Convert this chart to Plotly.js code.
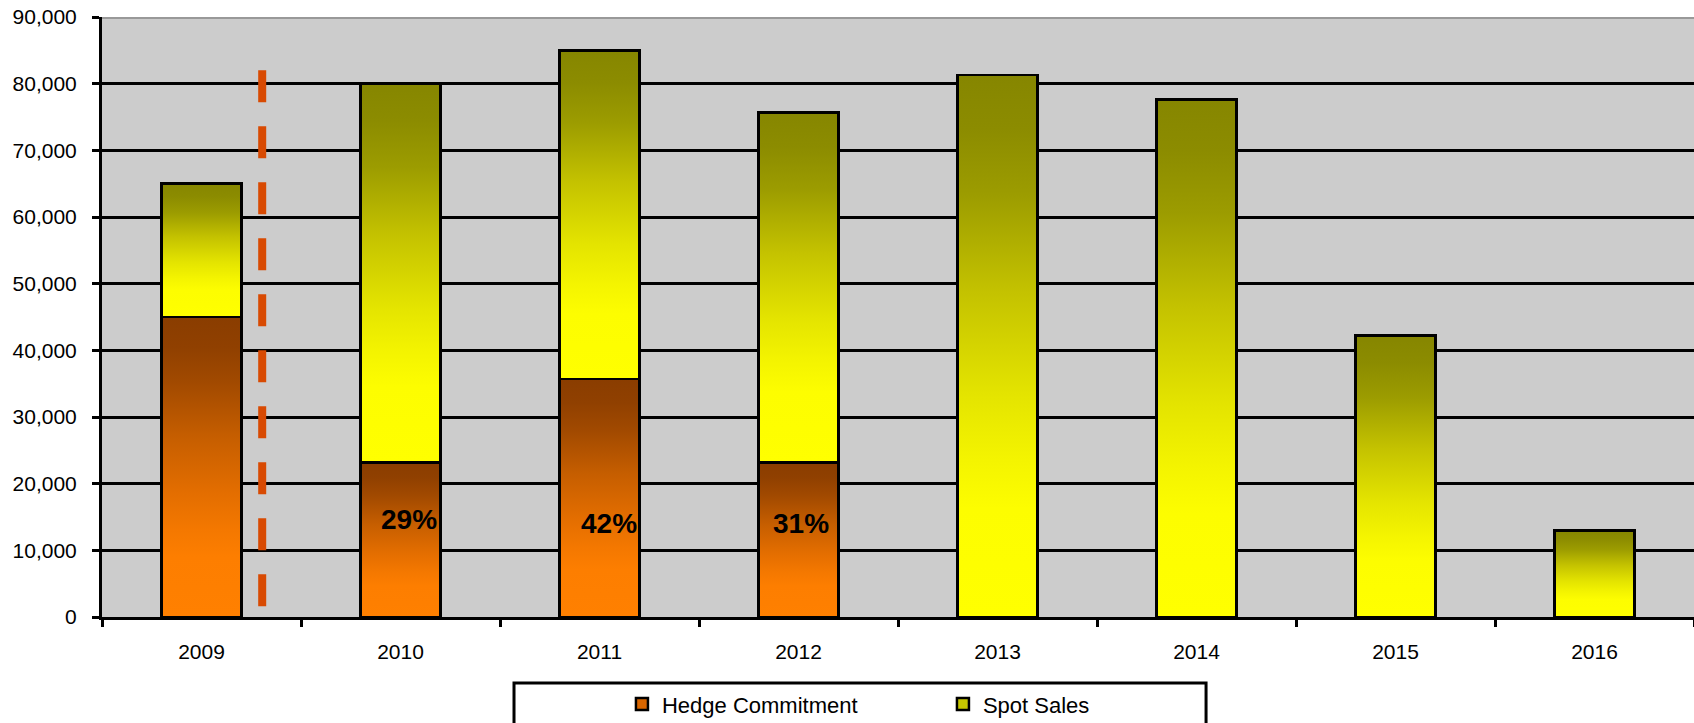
<!DOCTYPE html>
<html>
<head>
<meta charset="utf-8">
<script src="https://cdn.plot.ly/plotly-3.0.1.min.js"></script>
<style>
  html, body { margin: 0; padding: 0; background: #ffffff; }
  #chart { width: 1694px; height: 723px; }
</style>
</head>
<body>
<div id="chart"></div>
<script>
// ---- data ----
var years = ['2009', '2010', '2011', '2012', '2013', '2014', '2015', '2016'];
var hedgeCommitment = [45000, 23200, 35700, 23200, null, null, null, null];
var spotSales = [20000, 56800, 49300, 52500, 81300, 77600, 42200, 13000];
var pctYears = ['2010', '2011', '2012'];
var pctLabels = ['29%', '42%', '31%'];
var pctY = [14700, 14000, 14000];
var seriesNames = ['Hedge Commitment', 'Spot Sales'];
var dividerX = 0.305;          // position between 2009 and 2010 (category units)
var dividerY = [82000, 1200];  // dashed divider extent

// ---- styles ----
var FONT = 'Liberation Sans, Arial, sans-serif';
var hedgeStops = [[0, '#8A3D00'], [0.1, '#904000'], [0.22, '#A24A00'], [0.4, '#C65E00'],
                  [0.59, '#E46E00'], [0.71, '#F47800'], [0.8, '#FD7E00'], [1, '#FF8000']];
var spotStops = [[0, '#868600'], [0.1, '#8C8C00'], [0.22, '#9C9C00'], [0.4, '#C4C200'],
                 [0.59, '#E4E400'], [0.71, '#F4F400'], [0.8, '#FDFD00'], [1, '#FFFF00']];

var data = [
  {
    type: 'bar', name: seriesNames[0], x: years, y: hedgeCommitment,
    marker: { color: '#D96600', line: { color: '#000000', width: 2.5 } }
  },
  {
    type: 'bar', name: seriesNames[1], x: years, y: spotSales,
    marker: { color: '#C8C800', line: { color: '#000000', width: 2.5 } }
  }
];

var annotations = pctYears.map(function (yr, i) {
  return {
    x: years.indexOf(yr), y: pctY[i], xref: 'x', yref: 'y', text: '<b>' + pctLabels[i] + '</b>',
    showarrow: false, xshift: [8, 9, 2][i],
    font: { family: FONT, size: 28, color: '#000000' }
  };
});

var layout = {
  width: 1694, height: 723,
  margin: { l: 102, r: 0, t: 17, b: 106 },
  paper_bgcolor: '#ffffff',
  plot_bgcolor: '#CCCCCC',
  barmode: 'stack',
  bargap: 0.6,
  showlegend: true,
  hovermode: false,
  font: { family: FONT, size: 21, color: '#000000' },
  xaxis: {
    type: 'category',
    range: [-0.5, years.length - 0.5],
    showline: true, linecolor: '#000000', linewidth: 3,
    ticks: 'outside', tickson: 'boundaries', ticklen: 7, tickwidth: 3, tickcolor: '#000000',
    ticklabelstandoff: 14,
    showgrid: false, zeroline: false,
    tickfont: { family: FONT, size: 21, color: '#000000' },
    fixedrange: true
  },
  yaxis: {
    range: [0, 90000], dtick: 10000, tickformat: ',d',
    showline: true, linecolor: '#000000', linewidth: 3,
    ticks: 'outside', ticklen: 7, tickwidth: 3, tickcolor: '#000000',
    ticklabelstandoff: 11,
    showgrid: true, gridcolor: '#000000', gridwidth: 3,
    zeroline: false,
    tickfont: { family: FONT, size: 21, color: '#000000' },
    fixedrange: true
  },
  legend: {
    orientation: 'h', traceorder: 'normal',
    x: 0.3266, xanchor: 'left', xref: 'paper',
    y: 0.026, yanchor: 'middle', yref: 'container',
    bgcolor: 'rgba(0,0,0,0)', borderwidth: 0,
    entrywidth: 276, entrywidthmode: 'pixels',
    font: { family: FONT, size: 22, color: '#000000' }
  },
  shapes: [
    {
      type: 'line', xref: 'x', yref: 'y',
      x0: dividerX, x1: dividerX, y0: dividerY[0], y1: dividerY[1],
      line: { color: '#D84A02', width: 8, dash: '32px,24px' }
    },
    {
      type: 'line', xref: 'paper', yref: 'y', x0: 0, x1: 1, y0: 90000, y1: 90000,
      line: { color: '#999999', width: 4 }
    },
    {
      type: 'rect', xref: 'paper', yref: 'paper',
      x0: 0.2588, x1: 0.6935, y0: -0.11, y1: -0.3,
      line: { color: '#000000', width: 3 }, fillcolor: 'rgba(0,0,0,0)'
    }
  ],
  annotations: annotations
};

var config = { displayModeBar: false, staticPlot: true };

var gd = document.getElementById('chart');
Plotly.newPlot(gd, data, layout, config).then(function () {
  var ns = 'http://www.w3.org/2000/svg';
  var svg = gd.querySelector('svg.main-svg');
  var defs = document.createElementNS(ns, 'defs');
  function addGrad(id, stops) {
    var g = document.createElementNS(ns, 'linearGradient');
    g.setAttribute('id', id);
    g.setAttribute('x1', '0'); g.setAttribute('y1', '0');
    g.setAttribute('x2', '0'); g.setAttribute('y2', '1');
    stops.forEach(function (s) {
      var st = document.createElementNS(ns, 'stop');
      st.setAttribute('offset', s[0]);
      st.setAttribute('stop-color', s[1]);
      g.appendChild(st);
    });
    defs.appendChild(g);
  }
  addGrad('gradHedge', hedgeStops);
  addGrad('gradSpot', spotStops);
  svg.insertBefore(defs, svg.firstChild);
  var ids = ['gradHedge', 'gradSpot'];
  var traces = gd.querySelectorAll('.barlayer .trace');
  traces.forEach(function (t, i) {
    t.querySelectorAll('.point path').forEach(function (p) {
      p.style.fill = 'url(#' + ids[i] + ')';
    });
  });
});
</script>
</body>
</html>
